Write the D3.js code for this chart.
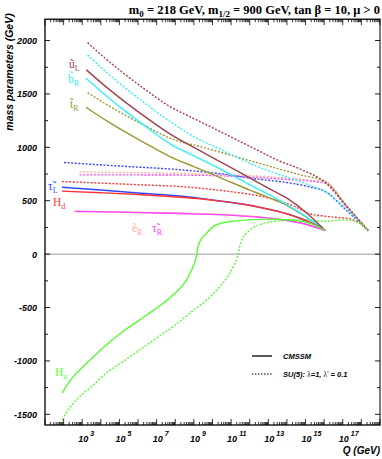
<!DOCTYPE html>
<html><head><meta charset="utf-8">
<script src="https://cdn.jsdelivr.net/npm/d3@7"></script>
<style>body{margin:0;background:#fff}svg{display:block}</style>
</head><body>
<svg id="c" width="382" height="459"></svg>
<script>
// ---- data: [log10(Q/GeV), mass parameter (GeV)] ----
const uL_cmssm = [[3.22,1726],[4.3,1564],[5.4,1412],[6.5,1271],[7.71,1126],[9.15,985],[10.5,858],[12,714],[13,618],[14,524],[15,395],[16.06,221]];
const bR_cmssm = [[3.2,1648],[4.3,1481],[5.4,1327],[6.5,1184],[7.71,1033],[9,920],[10.5,790],[12,650],[13.37,524],[14.5,410],[15.3,320],[16.06,221]];
const tR_cmssm = [[3.2,1376],[4.3,1250],[5.4,1135],[6.5,1027],[7.71,914],[9,820],[10.5,710],[12,600],[12.9,539],[14,455],[15,350],[16.06,221]];
const Hd_cmssm = [[1.91,590],[4,575],[6,558],[8.5,530],[10,505],[11.84,462],[13,420],[14.17,368],[15.2,300],[16.06,221]];
const tauL_cmssm = [[1.91,627],[4,600],[6,572],[8.5,540],[10,507],[11.84,463],[13,421],[14.17,369],[15.2,301],[16.06,221]];
const eR_cmssm = [[2.55,401],[5,395],[8.25,383],[10.5,372],[12.5,349],[14,318],[15,282],[16.06,221]];
const tauR_cmssm = [[2.65,399],[5,393],[8.25,380],[10.5,368],[12.5,345],[14,315],[15,280],[16.06,221]];
const Hu_cmssm = [[1.93,-1301],[2.2,-1222],[2.5,-1152],[3.0,-1062],[3.4,-995],[4.3,-849],[5.19,-725],[6.09,-615],[6.99,-506],[7.89,-381],[8.61,-241],[8.96,-116],[9.08,-60],[9.15,0],[9.22,65],[9.33,120],[9.69,197],[10.03,258],[10.56,293],[10.94,305],[12.02,321],[12.8,328],[14.17,320],[15.2,290],[16.06,221]];

const uL_su5 = [[3.29,1981],[4.3,1824],[5.4,1670],[6.5,1527],[7.71,1382],[9,1270],[10.5,1140],[12.38,977],[13.5,880],[14.72,796],[16.06,670],[17.2,450],[18.38,218]];
const bR_su5 = [[3.29,1866],[4.3,1704],[5.4,1544],[6.5,1396],[7.71,1242],[9,1100],[10.49,977],[12,850],[13.5,750],[14.72,680],[15.5,625],[16.06,585],[17.2,420],[18.38,218]];
const tR_su5 = [[3.29,1513],[4.3,1402],[5.4,1292],[6.5,1191],[7.71,1086],[9.5,1000],[12,876],[14.72,742],[16.06,680],[17.2,455],[18.38,218]];
const tauL_su5 = [[2.02,858],[5,825],[8.25,790],[11,740],[12,712],[14.2,665],[15.2,630],[16.06,585],[17.2,410],[18.38,218]];
const eR_su5 = [[2.86,770],[5,765],[8.5,755],[12,735],[14,712],[15.2,695],[16.06,680],[17.2,450],[18.38,218]];
const tauR_su5 = [[2.86,742],[5,742],[8.5,740],[12,722],[14,700],[15.2,685],[16.06,665],[17.2,440],[18.38,218]];
const Hd_su5 = [[1.91,680],[4,665],[6,650],[8.5,630],[10.95,586],[12.5,545],[13.7,492],[14.5,440],[15.2,380],[16.06,355],[16.6,345],[17.2,337],[17.8,300],[18.38,218]];
const Hu_su5 = [[1.93,-1551],[2.2,-1468],[2.5,-1400],[3.0,-1312],[3.4,-1255],[4.3,-1114],[5.19,-1006],[6.09,-896],[6.99,-787],[7.89,-678],[8.79,-552],[9.69,-428],[10.4,-303],[10.94,-178],[11.21,-84],[11.32,-40],[11.39,0],[11.44,50],[11.52,110],[12.02,227],[12.6,280],[13.26,305],[14.7,321],[16.06,308],[17.1,321],[17.9,290],[18.38,218]];

const yTicks = [-1500,-1000,-500,0,500,1000,1500,2000];
const xLabelExps = [3,5,7,9,11,13,15,17];
const title = {m0:"218", m12:"900", tanb:"10"};

// ---- layout ----
const svg = d3.select("#c");
const L=45, R=380, T=19.2, B=425;
const x = d3.scaleLog().domain([10,1e19]).range([L,R]);
const y = d3.scaleLinear().domain([-1600,2200]).range([B,T]);
const sans = "'Liberation Sans', Arial, sans-serif";
const serif = "'Liberation Serif', 'Times New Roman', serif";

svg.append("defs").append("clipPath").attr("id","clip")
  .append("rect").attr("x",L).attr("y",T).attr("width",R-L).attr("height",B-T);

// zero line
svg.append("line").attr("x1",L).attr("x2",R).attr("y1",y(0)).attr("y2",y(0))
  .attr("stroke","#999").attr("stroke-width",1);

const line = d3.line().x(d=>x(Math.pow(10,d[0]))).y(d=>y(d[1])).curve(d3.curveMonotoneX);
const series = [
  [tauR_su5,"#ff44ff",true],[eR_su5,"#ffb0a8",true],[tauL_su5,"#3344ff",true],[Hd_su5,"#ff3333",true],
  [tR_su5,"#999933",true],[bR_su5,"#33f0f8",true],[uL_su5,"#a04050",true],[Hu_su5,"#55ff33",true],
  [tR_cmssm,"#999933",false],[bR_cmssm,"#33f0f8",false],[uL_cmssm,"#a04050",false],
  [tauL_cmssm,"#3344ff",false],[Hd_cmssm,"#ff3333",false],
  [eR_cmssm,"#ffb0a8",false],[tauR_cmssm,"#ff44ff",false],[Hu_cmssm,"#55ff33",false]
];
const g = svg.append("g").attr("clip-path","url(#clip)");
series.forEach(([d,c,dot])=>{
  g.append("path").attr("d",line(d)).attr("fill","none").attr("stroke",c)
    .attr("stroke-width",1.4).attr("stroke-dasharray",dot?"2,1.6":null);
});

// frame
svg.append("rect").attr("x",L).attr("y",T).attr("width",R-L).attr("height",B-T)
  .attr("fill","none").attr("stroke","#000").attr("stroke-width",1.3);
svg.append("line").attr("x1",R).attr("x2",R).attr("y1",T).attr("y2",B).attr("stroke","#888").attr("stroke-width",1.6);

// y ticks (both sides)
for(let v=-1500; v<=2000; v+=250){
  const len = (v%500===0)?5:3;
  svg.append("line").attr("x1",L).attr("x2",L+len).attr("y1",y(v)).attr("y2",y(v)).attr("stroke","#000").attr("stroke-width",0.9);
  svg.append("line").attr("x1",R).attr("x2",R-len).attr("y1",y(v)).attr("y2",y(v)).attr("stroke","#000").attr("stroke-width",0.9);
}
svg.selectAll(".yl").data(yTicks).enter().append("text")
  .attr("x",37).attr("y",d=>y(d)+3.5).attr("text-anchor","end")
  .attr("font-family",sans).attr("font-size",9).attr("font-weight","bold").attr("font-style","italic")
  .text(d=>d);

// x ticks (log, both sides)
for(let e=1; e<=19; e++){
  for(let m=1; m<=9; m++){
    const q = m*Math.pow(10,e);
    if(q>1e19) break;
    const len = m===1?6:3;
    svg.append("line").attr("x1",x(q)).attr("x2",x(q)).attr("y1",B).attr("y2",B-len).attr("stroke","#000").attr("stroke-width",0.8);
    svg.append("line").attr("x1",x(q)).attr("x2",x(q)).attr("y1",T).attr("y2",T+len).attr("stroke","#000").attr("stroke-width",0.8);
  }
}
xLabelExps.forEach(e=>{
  const t = svg.append("text").attr("x",x(Math.pow(10,e))-4).attr("y",442)
    .attr("font-family",sans).attr("font-size",9).attr("font-weight","bold").attr("font-style","italic");
  t.append("tspan").text("10");
  t.append("tspan").attr("dx",2).attr("dy",-6).attr("font-size",7).text(e);
});
svg.append("text").attr("x",380).attr("y",454).attr("text-anchor","end")
  .attr("font-family",sans).attr("font-size",10).attr("font-weight","bold").attr("font-style","italic").text("Q (GeV)");

// y label
svg.append("text").attr("transform","translate(13,72) rotate(-90)").attr("text-anchor","middle")
  .attr("font-family",sans).attr("font-size",10.5).attr("font-weight","bold").attr("font-style","italic")
  .text("mass parameters (GeV)");

// title
const tt = svg.append("text").attr("x",380).attr("y",14).attr("text-anchor","end")
  .attr("font-family",serif).attr("font-size",12.5).attr("font-weight","bold");
tt.append("tspan").text("m");
tt.append("tspan").attr("dy",3).attr("font-size",9).text("0");
tt.append("tspan").attr("dy",-3).text(" = "+title.m0+" GeV, m");
tt.append("tspan").attr("dy",3).attr("font-size",9).text("1/2");
tt.append("tspan").attr("dy",-3).text(" = "+title.m12+" GeV, tan \u03b2 = "+title.tanb+",  \u03bc > 0");

// curve labels
function lab(xp,yp,main,sub,color){
  const t = svg.append("text").attr("x",xp).attr("y",yp).attr("fill",color)
    .attr("font-family",serif).attr("font-size",11.5);
  t.append("tspan").text(main);
  t.append("tspan").attr("dy",3).attr("font-size",8).text(sub);
}
lab(69,68,"u\u0303","L","#a04050");
lab(68,83,"b\u0303","R","#33f0f8");
lab(70,108,"t\u0303","R","#999933");
lab(48,190,"\u03c4\u0303","L","#3344ff");
lab(53,206,"H","d","#ff3333");
lab(132,232,"e\u0303","R","#ffa8a0");
lab(152,232,"\u03c4\u0303","R","#ff44ff");
lab(55,376,"H","u","#55ff33");

// legend
svg.append("line").attr("x1",252).attr("x2",272).attr("y1",356).attr("y2",356).attr("stroke","#000").attr("stroke-width",1.3);
svg.append("line").attr("x1",252).attr("x2",272).attr("y1",374).attr("y2",374).attr("stroke","#000").attr("stroke-width",1).attr("stroke-dasharray","1.5,1.5");
svg.append("text").attr("x",283).attr("y",359).attr("font-family",sans).attr("font-size",7.5)
  .attr("font-weight","bold").attr("font-style","italic").text("CMSSM");
const lg = svg.append("text").attr("x",283).attr("y",377).attr("font-family",sans).attr("font-size",7.5)
  .attr("font-weight","bold").attr("font-style","italic");
lg.append("tspan").text("SU(5): ");
lg.append("tspan").attr("font-weight","normal").attr("font-style","normal").attr("font-family",serif).text("\u03bb");
lg.append("tspan").text("=1, ");
lg.append("tspan").attr("font-weight","normal").attr("font-style","normal").attr("font-family",serif).text("\u03bb'");
lg.append("tspan").text(" = 0.1");
</script>
</body></html>
